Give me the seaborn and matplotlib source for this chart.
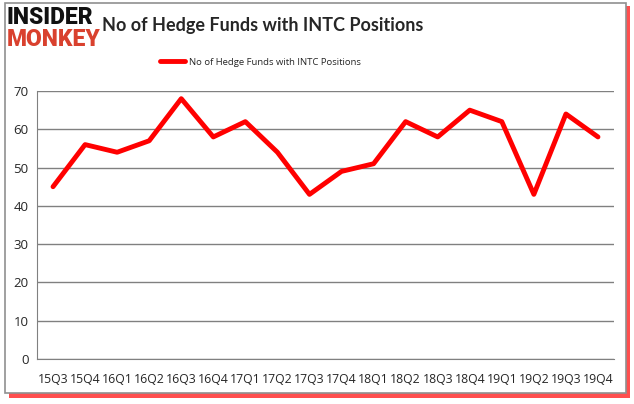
import pandas as pd
import seaborn as sns
import matplotlib.pyplot as plt
from matplotlib.patches import Rectangle

quarters = ['15Q3', '15Q4', '16Q1', '16Q2', '16Q3', '16Q4', '17Q1', '17Q2', '17Q3',
            '17Q4', '18Q1', '18Q2', '18Q3', '18Q4', '19Q1', '19Q2', '19Q3', '19Q4']
funds = [45, 56, 54, 57, 68, 58, 62, 54, 43, 49, 51, 62, 58, 65, 62, 43, 64, 58]
label = 'No of Hedge Funds with INTC Positions'

df = pd.DataFrame({'quarter': quarters, 'funds': funds})

sns.set_style('white')
plt.rcParams['font.family'] = ['Open Sans', 'DejaVu Sans']

W, H = 634, 404
fig = plt.figure(figsize=(W / 100, H / 100), dpi=100)

# frame with red shadow
fig.patches.append(Rectangle((9 / W, 1 - 398 / H), 621 / W, 392 / H, transform=fig.transFigure,
                             facecolor='#ff3030', edgecolor='none', zorder=0, alpha=0.85))
fig.patches.append(Rectangle((5 / W, 1 - 393 / H), 621 / W, 390 / H, transform=fig.transFigure,
                             facecolor='white', edgecolor='#909090', lw=1.2, zorder=1))

ax = fig.add_axes([37 / W, 1 - 359 / H, 577 / W, 268 / H])
ax.set_zorder(2)
ax.patch.set_alpha(0)
sns.lineplot(data=df, x='quarter', y='funds', ax=ax, color='#ff0000', lw=3.5, label=label, sort=False)

ax.set_xlim(-0.5, len(quarters) - 0.5)
ax.set_ylim(0, 70)
ax.set_yticks(range(0, 71, 10))
ax.set_xlabel('')
ax.set_ylabel('')
ax.grid(axis='y', color='#808080', lw=1)
ax.set_axisbelow(True)
for s in ['top', 'right']:
    ax.spines[s].set_visible(False)
for s in ['left', 'bottom']:
    ax.spines[s].set_color('#808080')
ax.set_xticks([i + 0.5 for i in range(-1, len(quarters))], minor=True)
ax.tick_params(axis='x', which='minor', length=5, color='#808080', width=1, direction='out')
ax.tick_params(axis='x', which='major', length=0, pad=10, labelsize=8.8)
ax.tick_params(axis='y', length=0, pad=6, labelsize=9.5)

ax.legend(loc='center', bbox_to_anchor=(0.387, 1.108), frameon=False, fontsize=6.8,
          handlelength=2.7, handletextpad=0.35)

fig.text(263 / W, 1 - 26 / H, label, ha='center', va='center', fontsize=13, fontweight='bold',
         family=['Lato', 'DejaVu Sans'], zorder=3)
fig.text(7 / W, 1 - 18 / H, 'INSIDER', ha='left', va='center', fontsize=16.5, fontweight='heavy',
         family=['Roboto', 'DejaVu Sans'], color='#111111', zorder=3)
fig.text(7 / W, 1 - 40 / H, 'MONKEY', ha='left', va='center', fontsize=16.5, fontweight='heavy',
         family=['Roboto', 'DejaVu Sans'], color='#d9412e', zorder=3)

fig.savefig('out.png', dpi=100)
